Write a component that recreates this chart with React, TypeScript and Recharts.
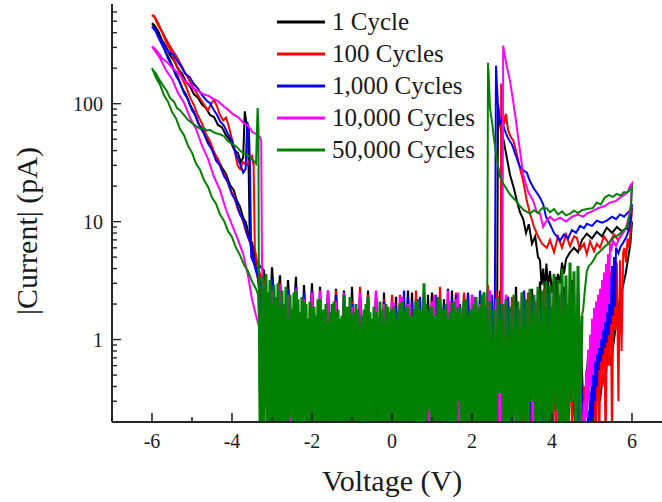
import React from 'react';
import { LineChart, Line, XAxis, YAxis, Legend } from 'recharts';

type Pair = [number, number];

const SERIF = '"Liberation Serif", "Times New Roman", Times, serif';

// ---------- axis ticks ----------
const xTicks = [-7, -6, -5, -4, -3, -2, -1, 0, 1, 2, 3, 4, 5, 6, 7];
const xLabelled = [-6, -4, -2, 0, 2, 4, 6];
const yTicks = [
  0.2, 0.3, 0.4, 0.5, 0.6, 0.7, 0.8, 0.9,
  1, 2, 3, 4, 5, 6, 7, 8, 9,
  10, 20, 30, 40, 50, 60, 70, 80, 90,
  100, 200, 300, 400, 500, 600,
];
const yLabelled = [1, 10, 100];

const cycleNames = ['1 Cycle', '100 Cycles', '1,000 Cycles', '10,000 Cycles', '50,000 Cycles'];

// ---------- 1 cycle (black) ----------
const blackNegOut = [2.2,0.1,1.9,0.3,2.5,0.08,1.7,0.15,2.3,0.06,2.0,0.2,2.6,0.1,1.8,0.05,2.4,0.12,2.1,0.3,1.9,0.07,2.5,0.1,2.2,0.18,2.7,0.09,2.3,0.15,2.6,0.2,2.4];
const blackNegLoop: Pair[] = [
  [-3.25,1.8],[-3.3,3.0],[-3.35,4.1],[-3.42,5.0],[-3.5,6.6],[-3.58,7.6],[-3.65,9.8],[-3.72,10.8],[-3.8,13.4],[-3.88,15.1],[-3.95,18.3],[-4.05,20.5],[-4.15,25.4],[-4.25,28.6],[-4.35,33.5],[-4.45,37.2],[-4.55,44.8],[-4.65,51],[-4.75,61],[-4.85,69],[-4.95,85],[-5.05,98],[-5.15,120],[-5.25,136],[-5.35,167],[-5.45,192],[-5.55,233],[-5.65,270],[-5.75,325],[-5.85,380],[-5.93,445],[-6.0,480],
  [-5.95,468],[-5.85,415],[-5.75,345],[-5.65,305],[-5.55,258],[-5.45,232],[-5.35,197],[-5.25,181],[-5.15,153],[-5.05,140],[-4.95,120],[-4.85,112],[-4.75,98],[-4.65,92],[-4.55,80],[-4.45,77],[-4.35,66],[-4.25,63],[-4.15,54],[-4.05,49],[-3.95,41],[-3.85,38],[-3.78,32],[-3.72,35],[-3.68,86],[-3.64,68],[-3.6,58],[-3.56,9],[-3.52,6.5],[-3.45,5.3],[-3.38,4.6],[-3.3,4.2],[-3.25,4.0],
];
const blackNegBack = [3.9,0.4,4.1,1.2,3.5,0.3,3.2,0.8,3.4,0.2,2.9,0.5,3.0,0.15,2.8,0.3,2.6,0.1,2.7,0.25,2.5,0.08,2.8,0.2,2.4,0.1,2.6,0.15,2.3,0.06,2.5,0.12,2.2];
const blackPosOut = [2.3,0.1,2.0,0.25,2.6,0.07,2.2,0.15,1.9,0.3,2.5,0.08,2.1,0.12,2.7,0.05,2.0,0.2,2.4,0.1,1.8,0.15,2.2,0.06,2.6,0.12,2.0];
const blackPosLoop: Pair[] = [
  [2.63,2],[2.65,100],[2.68,78],[2.72,60],[2.78,51],[2.85,38],[2.95,25],[3.05,19],[3.12,15],[3.2,12],[3.28,10.5],[3.35,8],[3.42,9.5],[3.5,6.5],[3.58,7.5],[3.65,5],[3.7,4.7],[3.74,2.9],[3.78,4.0],[3.82,2.6],[3.86,4.4],[3.9,2.8],[3.95,3.8],[4.0,2.5],[4.05,3.3],[4.1,2.4],[4.15,3.6],[4.2,3.0],[4.25,4.5],[4.3,3.6],[4.35,4.8],[4.45,5.5],[4.55,6],[4.65,5.5],[4.75,7],[4.87,7.9],[5.0,7.2],[5.12,8.2],[5.25,7.5],[5.37,8.9],[5.5,8],[5.62,9],[5.75,8.3],[5.87,8.8],[5.95,8.4],[6.0,10],
  [5.96,6.5],[5.9,4.8],[5.84,3.6],[5.77,2.8],[5.7,2.2],[5.62,1.5],[5.55,1.0],[5.47,0.6],[5.4,0.9],[5.33,0.4],[5.27,0.5],
];
const blackPosBack = [0.3,0.9,0.1,0.7,0.2,1.3,0.08,3.2,0.15,2.8,0.4,3.4,0.1,2.9,0.06,3.1,0.25,2.7,0.1,2.5,0.05,2.8,0.15,2.3,0.3,2.6,0.08,2.2,0.12,2.5,0.06,2.1,0.2,2.4,0.1,2.0,0.15,2.6,0.07,2.2,0.3,1.9,0.1,2.4,0.05,2.1,0.18,2.5,0.09,2.0,0.12,2.3,0.1];

// ---------- 100 cycles (red) ----------
const redNegOut = [1.9,0.07,2.2,0.2,1.6,0.1,2.4,0.05,1.8,0.3,2.1,0.12,1.7,0.06,2.6,0.15,1.9,0.09,2.3,0.25,1.8,0.05,2.0,0.14,2.5,0.08,2.2,0.3,1.9,0.1,2.6,0.2,3.0];
const redNegLoop: Pair[] = [
  [-3.25,1.6],[-3.32,2.8],[-3.4,4.1],[-3.48,5.0],[-3.56,6.8],[-3.65,8.2],[-3.75,10.8],[-3.85,12.6],[-3.95,16.4],[-4.05,19],[-4.15,23.6],[-4.25,27.4],[-4.35,33.8],[-4.45,39],[-4.55,48],[-4.65,55],[-4.75,68],[-4.85,79],[-4.95,97],[-5.05,113],[-5.15,140],[-5.25,163],[-5.35,201],[-5.45,235],[-5.55,289],[-5.65,335],[-5.75,405],[-5.85,465],[-5.93,535],[-6.0,565],
  [-5.95,555],[-5.87,500],[-5.78,430],[-5.68,370],[-5.58,320],[-5.48,280],[-5.38,250],[-5.28,215],[-5.18,185],[-5.08,160],[-4.98,140],[-4.88,122],[-4.78,108],[-4.68,96],[-4.6,88],[-4.52,100],[-4.45,108],[-4.38,96],[-4.3,80],[-4.22,72],[-4.15,76],[-4.08,64],[-4.0,50],[-3.92,38],[-3.86,30],[-3.8,28],[-3.72,32],[-3.62,30],[-3.55,34],[-3.5,36],[-3.46,30],[-3.43,6],[-3.38,4.6],[-3.32,3.8],[-3.25,3.2],
];
const redNegBack = [3.2,0.3,2.8,0.1,3.0,0.5,2.5,0.12,2.7,0.2,2.3,0.06,2.6,0.15,2.2,0.3,2.4,0.1,2.0,0.07,2.5,0.2,2.1,0.09,2.8,0.15,2.0,0.05,2.3,0.12,1.9,0.25,2.2];
const redPosOut = [1.9,0.08,2.4,0.2,1.7,0.1,2.6,0.06,2.0,0.3,1.8,0.12,2.8,0.07,2.1,0.15,1.9,0.05,2.5,0.2,2.2,0.09,1.8,0.3,2.9,0.1,2.3,0.12];
const redPosLoop: Pair[] = [
  [2.72,2],[2.73,148],[2.76,100],[2.8,67],[2.85,82],[2.9,60],[2.97,52],[3.03,49],[3.1,40],[3.18,30],[3.28,22],[3.37,15],[3.45,11.7],[3.55,9],[3.65,7.5],[3.75,6.5],[3.87,6],[3.95,7],[4.05,5.5],[4.15,7.5],[4.25,6],[4.35,7.8],[4.45,6.2],[4.55,7.5],[4.62,7.3],[4.7,5.8],[4.8,6.5],[4.87,5.3],[4.95,6.8],[5.05,5.6],[5.12,6.5],[5.2,6],[5.3,7.5],[5.42,6.5],[5.55,7.8],[5.65,7],[5.7,7.3],[5.8,8.5],[5.88,9],[5.95,10.8],[6.0,13],
  [5.97,9],[5.93,6],[5.89,7.2],[5.85,4.5],[5.81,6.0],
  [5.78,5.5],[5.74,0.8],[5.7,4.7],[5.66,0.3],[5.62,4.5],[5.58,1.2],[5.54,4.2],[5.5,0.15],[5.46,3.8],[5.42,0.6],[5.38,3.4],[5.34,0.1],[5.3,2.8],[5.26,0.4],[5.22,2.3],[5.18,0.1],[5.14,1.3],[5.1,0.2],[5.06,0.6],[5.02,0.08],[4.98,0.3],[4.94,0.08],[4.9,0.2],[4.86,0.06],
];
const redPosBack = [0.4,0.1,0.6,0.2,2.0,0.07,2.4,0.15,1.9,0.3,2.7,0.08,2.1,0.12,2.5,0.05,1.8,0.2,2.3,0.1,2.0,0.15,2.6,0.06,2.2,0.25,1.9,0.09,2.4,0.12,2.0,0.07,2.5,0.2,1.8,0.1,2.3,0.15,2.1,0.06,2.7,0.12,1.9,0.08,2.2,0.3,2.0,0.1,2.4];

// ---------- 1,000 cycles (blue) ----------
const blueNegOut = [1.8,0.12,2.1,0.05,1.7,0.25,2.3,0.09,1.9,0.15,2.0,0.07,1.6,0.3,2.4,0.1,1.8,0.06,2.2,0.18,1.7,0.08,2.5,0.12,2.0,0.2,2.3,0.07,1.9,0.14,2.4,0.3,2.6];
const blueNegLoop: Pair[] = [
  [-3.25,0.9],[-3.3,2.2],[-3.36,3.5],[-3.44,4.6],[-3.52,6.4],[-3.6,7.4],[-3.7,9.9],[-3.8,11.6],[-3.9,14.9],[-4.0,17],[-4.1,21.6],[-4.2,24.4],[-4.3,29.8],[-4.4,33],[-4.5,41],[-4.6,46],[-4.7,56],[-4.8,63],[-4.9,78],[-5.0,88],[-5.1,108],[-5.2,123],[-5.3,151],[-5.4,172],[-5.5,209],[-5.6,242],[-5.7,294],[-5.8,342],[-5.9,405],[-6.0,450],
  [-5.95,440],[-5.87,392],[-5.78,345],[-5.68,308],[-5.58,272],[-5.47,262],[-5.37,230],[-5.27,207],[-5.17,180],[-5.05,166],[-4.95,146],[-4.85,134],[-4.75,118],[-4.63,106],[-4.55,101],[-4.45,88],[-4.38,81],[-4.3,71],[-4.2,65],[-4.1,55],[-4.0,49],[-3.9,37],[-3.8,31],[-3.72,26],[-3.66,28],[-3.62,70],[-3.58,62],[-3.55,30],[-3.52,5],[-3.45,4.4],[-3.38,3.6],[-3.3,3.0],[-3.25,2.6],
];
const blueNegBack = [3.0,0.5,3.3,0.2,2.9,0.4,2.7,0.1,2.8,0.25,2.4,0.08,2.6,0.15,2.2,0.06,2.5,0.2,2.1,0.1,2.4,0.3,2.0,0.07,2.3,0.12,1.9,0.18,2.2,0.09,2.0,0.15,1.8];
const bluePosOut = [2.0,0.12,1.7,0.05,2.3,0.2,1.9,0.1,2.5,0.07,1.8,0.3,2.1,0.15,1.6,0.06,2.4,0.1,2.0,0.2,1.7,0.08,2.6,0.12,1.9,0.1];
const bluePosLoop: Pair[] = [
  [2.57,1.8],[2.6,210],[2.62,150],[2.65,95],[2.7,67],[2.75,75],[2.8,62],[2.85,56],[2.9,51],[3.0,45],[3.1,36],[3.2,29],[3.3,27],[3.37,26],[3.45,22],[3.55,19],[3.65,17],[3.72,15.5],[3.78,14],[3.85,11],[3.95,9.5],[4.05,8],[4.12,7.5],[4.2,6.9],[4.3,7.8],[4.4,7.2],[4.5,8.5],[4.6,8],[4.7,9.2],[4.8,8.8],[4.87,9.6],[5.0,9.2],[5.12,10.2],[5.25,9.8],[5.37,10.2],[5.5,11],[5.6,10.5],[5.7,11.5],[5.8,11],[5.87,11.7],[5.95,12.5],[6.0,14],
  [5.97,10.5],[5.92,8.5],[5.87,7.6],[5.8,6.8],[5.72,6.2],[5.66,5.4],
  [5.6,6.0],[5.575,1.9],[5.55,5.0],[5.525,1.6],[5.5,4.2],[5.475,1.35],[5.45,3.5],[5.425,1.1],[5.4,3.0],[5.375,0.95],[5.35,2.6],[5.325,0.85],[5.3,2.3],[5.275,0.75],[5.25,2.0],[5.225,0.65],[5.2,1.76],[5.175,0.55],[5.15,1.3],[5.125,0.4],[5.1,0.95],[5.075,0.3],[5.05,0.7],[5.025,0.2],[5.0,0.5],[4.975,0.15],[4.95,0.35],[4.925,0.1],[4.9,0.25],[4.875,0.08],[4.86,0.2],
];
const bluePosBack = [0.2,0.6,0.08,1.9,0.15,2.3,0.06,2.0,0.25,2.5,0.1,1.8,0.12,2.2,0.05,2.6,0.2,1.9,0.09,2.3,0.15,2.0,0.07,2.4,0.3,1.7,0.1,2.1,0.06,2.5,0.18,1.9,0.08,2.2,0.12,2.0,0.05,2.4,0.2,1.8,0.1,2.3,0.15,2.1,0.07,2.6,0.12,1.9,0.1];

// ---------- 10,000 cycles (magenta) ----------
const magentaNegOut = [2.0,0.06,1.7,0.2,2.4,0.1,1.9,0.35,2.2,0.08,1.6,0.15,2.5,0.05,2.0,0.22,1.8,0.1,2.6,0.07,2.1,0.3,1.7,0.12,2.3,0.06,1.9,0.18,2.5,0.09,2.2,0.4,2.8];
const magentaNegLoop: Pair[] = [
  [-3.3,1.2],[-3.4,1.6],[-3.5,2.2],[-3.6,3.5],[-3.72,5.3],[-3.85,7],[-4.0,9.4],[-4.15,12.6],[-4.3,18.5],[-4.45,24],[-4.6,34],[-4.75,44],[-4.9,61],[-5.05,76],[-5.2,102],[-5.35,123],[-5.5,162],[-5.65,192],[-5.8,243],[-5.9,272],[-6.0,305],
  [-5.95,298],[-5.85,272],[-5.75,243],[-5.62,224],[-5.47,198],[-5.35,182],[-5.2,158],[-5.1,149],[-4.97,135],[-4.85,129],[-4.72,120],[-4.6,117],[-4.47,110],[-4.35,105],[-4.2,94],[-4.1,89],[-3.97,81],[-3.85,77],[-3.72,69],[-3.6,65],[-3.48,57],[-3.37,55],[-3.3,52],[-3.27,48],[-3.25,4.7],[-3.22,1.5],
];
const magentaNegBack = [3.0,0.3,2.6,0.6,2.9,0.2,2.4,0.1,2.7,0.35,2.2,0.08,2.5,0.15,2.0,0.25,2.6,0.06,2.1,0.12,2.4,0.3,1.9,0.1,2.5,0.07,2.2,0.2,2.6,0.15,2.0,0.09,2.1];
const magentaPosOut = [1.8,0.1,2.3,0.06,2.0,0.25,1.7,0.12,2.5,0.08,2.1,0.3,1.9,0.05,2.6,0.15,2.2,0.1,1.8,0.2,2.4,0.07,2.0,0.12,2.7,0.09,2.2,0.15];
const magentaPosLoop: Pair[] = [
  [2.76,2],[2.78,310],[2.82,255],[2.88,200],[2.95,156],[3.02,110],[3.08,80],[3.12,63],[3.2,40],[3.28,25],[3.4,18],[3.53,15],[3.62,12],[3.7,11.7],[3.78,9],[3.85,10],[3.95,11],[4.05,10.2],[4.2,10.8],[4.35,10],[4.5,11],[4.65,11.5],[4.78,11],[4.87,11.7],[5.0,12.2],[5.15,13],[5.3,13.5],[5.45,14.5],[5.6,15],[5.7,16],[5.82,17],[5.9,18],[5.95,20],[6.0,21],
  [5.97,14],[5.92,11],[5.86,9],[5.78,8],[5.7,7.5],[5.6,6.2],[5.52,7.0],[5.48,5.6],
  [5.45,6.5],[5.425,2.0],[5.4,5.3],[5.375,1.7],[5.35,4.4],[5.325,1.4],[5.3,3.7],[5.275,1.2],[5.25,3.2],[5.225,1.0],[5.2,2.7],[5.175,0.85],[5.15,2.4],[5.125,0.75],[5.1,2.1],[5.075,0.65],[5.05,1.85],[5.025,0.5],[5.0,1.5],[4.975,0.4],[4.95,1.1],[4.925,0.3],[4.9,0.82],[4.875,0.22],[4.85,0.55],[4.825,0.15],[4.8,0.3],[4.78,0.1],
];
const magentaPosBack = [0.15,2.2,0.3,2.8,0.1,2.5,0.2,2.9,0.08,2.4,0.35,2.6,0.12,2.2,0.06,2.5,0.2,2.0,0.1,2.4,0.15,2.1,0.07,2.6,0.25,1.9,0.1,2.3,0.06,2.0,0.18,2.5,0.09,2.1,0.3,1.8,0.12,2.4,0.05,2.0,0.2,2.2,0.08,1.9,0.15,2.3,0.1,2.0];

// ---------- 50,000 cycles (green) ----------
const greenNegOut = [1.6,0.08,1.9,0.15,1.4,0.05,2.1,0.3,1.7,0.1,1.5,0.06,2.3,0.2,1.8,0.12,1.3,0.04,2.0,0.5,1.6,0.09,1.9,0.18,2.4,0.07,1.5,0.11,1.7,0.25,2.0,0.06,1.4,0.14,1.8,0.08,2.2,0.35,1.6,0.1,1.9,0.05,1.5,0.16,2.1,0.07,1.7,0.12,2.6,0.09,1.8,0.22,1.5,0.06,2.0,0.13,1.9,0.1,2.3,0.08,2.0,0.15,2.5,0.3,2.8,0.12];
const greenNegLoop: Pair[] = [
  [-3.3,0.9],[-3.35,2.4],[-3.4,2.7],[-3.5,3.1],[-3.6,3.8],[-3.7,4.3],[-3.8,5.2],[-3.9,6.0],[-4.0,7.4],[-4.1,8.3],[-4.2,10.2],[-4.3,11.5],[-4.4,14.2],[-4.5,16],[-4.6,19.8],[-4.7,22.5],[-4.8,27.5],[-4.9,31],[-5.0,38.5],[-5.1,44],[-5.2,54],[-5.3,61],[-5.4,75],[-5.5,85],[-5.6,104],[-5.7,118],[-5.8,145],[-5.9,166],[-6.0,200],
  [-5.96,190],[-5.9,180],[-5.82,160],[-5.72,142],[-5.63,128],[-5.55,112],[-5.45,104],[-5.38,92],[-5.3,88],[-5.2,80],[-5.1,73],[-4.97,67],[-4.88,64],[-4.78,61],[-4.7,62],[-4.63,59],[-4.55,60],[-4.45,57],[-4.38,56],[-4.3,55],[-4.2,53],[-4.1,48],[-3.97,45],[-3.88,43],[-3.8,40],[-3.72,38],[-3.63,37],[-3.55,35],[-3.47,33],[-3.4,31],[-3.36,92],[-3.34,66],[-3.32,0.4],
];
const greenNegBack = [0.08,3.4,0.15,3.6,0.1,3.2,0.3,2.9,0.06,3.0,0.2,2.6,0.1,2.8,0.05,2.4,0.25,2.5,0.12,2.2,0.07,2.3,0.4,2.0,0.1,2.1,0.06,1.9,0.18,2.2,0.09,1.8,0.3,2.0,0.05,1.7,0.14,2.1,0.08,1.8,0.2,1.6,0.1,1.9,0.06,2.3,0.15,1.7,0.09,1.8,0.35,1.6,0.07,2.0,0.12,1.7,0.05,1.9,0.2,1.5,0.1,1.8,0.08,2.0,0.16,1.7,0.1];
const greenPosOut = [1.8,0.1,1.5,0.06,2.0,0.2,1.7,0.08,1.9,0.3,1.6,0.12,2.1,0.05,1.8,0.15,3.0,0.09,1.7,0.25,1.9,0.07,1.6,0.12,2.2,0.06,1.8,0.18,1.5,0.1,2.0,0.08,1.7,0.3,1.9,0.05,2.1,0.14,1.6,0.09,1.8,0.2,2.3,0.07,1.9,0.12,2.5,0.1];
const greenPosLoop: Pair[] = [
  [2.38,1.5],[2.4,222],[2.42,165],[2.45,92],[2.5,70],[2.55,50],[2.6,38],[2.65,30],[2.7,24],[2.78,21],[2.86,19],[2.95,17],[3.02,16],[3.1,15],[3.2,13.5],[3.3,12.5],[3.45,11.7],[3.55,12.5],[3.65,11.8],[3.75,13],[3.87,13],[3.95,12],[4.05,12.8],[4.15,11.5],[4.25,12.2],[4.35,11.3],[4.45,11.7],[4.55,12.4],[4.65,11.8],[4.75,12.5],[4.87,12.8],[5.02,13],[5.12,14.5],[5.22,14],[5.32,16],[5.42,16.8],[5.52,16.2],[5.62,17.2],[5.72,16.6],[5.8,17.8],[5.87,17.6],[5.95,18.5],[6.0,19.5],
  [5.97,12],[5.93,11],[5.87,9],[5.8,8.5],[5.72,8],[5.63,7.6],[5.53,7.3],[5.43,6.6],[5.33,6.2],[5.25,5.8],[5.18,5.5],[5.12,5.3],[5.05,4.8],[4.98,4.4],[4.92,4.2],[4.87,3.8],[4.82,2.6],[4.78,1.8],
];
const greenPosBack = [1.6,0.2,4.2,0.1,3.8,0.3,4.5,0.08,3.5,0.15,4.0,0.06,3.2,0.25,3.6,0.1,2.9,0.05,3.1,0.18,2.6,0.08,2.8,0.12,2.4,0.3,2.7,0.06,2.2,0.15,2.5,0.09,2.1,0.2,2.4,0.07,1.9,0.12,2.2,0.05,2.0,0.35,2.3,0.1,1.8,0.08,2.1,0.16,1.9,0.06,2.4,0.12,1.7,0.2,2.0,0.09,1.8,0.05,2.2,0.14,1.6,0.3,1.9,0.07,2.1,0.1,1.7,0.06,2.0,0.18,1.8,0.08,2.3,0.12,1.6,0.05,1.9,0.25,2.0,0.1,1.7,0.07,2.2,0.15,1.8,0.06,1.6,0.2,1.9,0.09,2.1,0.12,1.7,0.1,1.9,0.08];

// ---------- helpers: sampled sweeps -> {v, i} points ----------
type Pt = { v: number; i: number | null };
const sweep = (start: number, step: number, values: number[]): Pt[] =>
  values.map((i, k) => ({ v: Math.round((start + k * step) * 1000) / 1000, i }));
const pairs = (list: Pair[]): Pt[] => list.map(([v, i]) => ({ v, i }));
const BREAK: Pt = { v: 0, i: null };

// Each measurement: 0 -> -6 V -> 0 -> +6 V -> 0. The low-current (noise floor)
// stretches and the switching loops are kept as two polylines.
const build = (negOut: Pt[], negLoop: Pt[], negBack: Pt[], posOut: Pt[], posLoop: Pt[], posBack: Pt[]) => ({
  floor: [...posBack, ...negOut, BREAK, ...negBack, ...posOut],
  loops: [
    negOut[negOut.length - 1], ...negLoop, negBack[0], BREAK,
    posOut[posOut.length - 1], ...posLoop, posBack[0],
  ],
});

const cycle1 = build(
  sweep(0, -0.1, blackNegOut), pairs(blackNegLoop), sweep(-3.2, 0.1, blackNegBack),
  sweep(0, 0.1, blackPosOut), pairs(blackPosLoop), sweep(5.2, -0.1, blackPosBack),
);
const cycle100 = build(
  sweep(0, -0.1, redNegOut), pairs(redNegLoop), sweep(-3.2, 0.1, redNegBack),
  sweep(0, 0.1, redPosOut), pairs(redPosLoop), sweep(4.8, -0.1, redPosBack),
);
const cycle1000 = build(
  sweep(0, -0.1, blueNegOut), pairs(blueNegLoop), sweep(-3.2, 0.1, blueNegBack),
  sweep(0, 0.1, bluePosOut), pairs(bluePosLoop), sweep(4.8, -0.1, bluePosBack),
);
const cycle10000 = build(
  sweep(0, -0.1, magentaNegOut), pairs(magentaNegLoop), sweep(-3.2, 0.1, magentaNegBack),
  sweep(0, 0.1, magentaPosOut), pairs(magentaPosLoop), sweep(4.75, -0.1, magentaPosBack),
);
const cycle50000 = build(
  sweep(0, -0.05, greenNegOut), pairs(greenNegLoop), sweep(-3.3, 0.05, greenNegBack),
  sweep(0, 0.05, greenPosOut), pairs(greenPosLoop), sweep(4.75, -0.05, greenPosBack),
);

const series = [
  { name: cycleNames[0], color: '#000000', floorWidth: 2.2, ...cycle1 },
  { name: cycleNames[1], color: '#ff0000', floorWidth: 2.2, ...cycle100 },
  { name: cycleNames[2], color: '#0000ff', floorWidth: 2.2, ...cycle1000 },
  { name: cycleNames[3], color: '#ff00ff', floorWidth: 2.4, ...cycle10000 },
  { name: cycleNames[4], color: '#008000', floorWidth: 3, ...cycle50000 },
];

const AXIS = '#262626';
const TEXT = '#1a1a1a';

const XTick = (props: any) => {
  const { x, y, payload } = props;
  const v = payload.value as number;
  const major = v % 2 === 0;
  return (
    <g>
      <line x1={x} x2={x} y1={y} y2={y - (major ? 9 : 5)} stroke={AXIS} strokeWidth={1.6} />
      {xLabelled.includes(v) && (
        <text x={x} y={y + 26} textAnchor="middle" fontSize={20} fontFamily={SERIF} fill={TEXT}>
          {String(v)}
        </text>
      )}
    </g>
  );
};

const YTick = (props: any) => {
  const { x, y, payload } = props;
  const v = payload.value as number;
  const major = yLabelled.includes(v);
  return (
    <g>
      <line x1={x} x2={x + (major ? 9 : 5)} y1={y} y2={y} stroke={AXIS} strokeWidth={1.4} />
      {major && (
        <text x={x - 9} y={y + 7} textAnchor="end" fontSize={20} fontFamily={SERIF} fill={TEXT}>
          {String(v)}
        </text>
      )}
    </g>
  );
};

const XTitle = (props: any) => {
  const vb = props.viewBox || { x: 112, y: 422, width: 560, height: 80 };
  return (
    <text x={vb.x + vb.width / 2} y={vb.y + vb.height - 11} textAnchor="middle" fontSize={30} fontFamily={SERIF} fill={TEXT}>
      Voltage (V)
    </text>
  );
};

const YTitle = (props: any) => {
  const vb = props.viewBox || { x: 0, y: 4, width: 112, height: 418 };
  const cx = vb.x + 37;
  const cy = vb.y + vb.height / 2 + 18;
  return (
    <text x={cx} y={cy} transform={`rotate(-90 ${cx} ${cy})`} textAnchor="middle" fontSize={30} fontFamily={SERIF} fill={TEXT}>
      |Current| (pA)
    </text>
  );
};

const LegendBox = () => (
  <div style={{ fontFamily: SERIF, fontSize: 25, color: TEXT }}>
    {series.map((s) => (
      <div key={s.name} style={{ display: 'flex', alignItems: 'center', height: 32, whiteSpace: 'nowrap' }}>
        <svg width={48} height={4} style={{ display: 'block' }}>
          <line x1={0} y1={2} x2={48} y2={2} stroke={s.color} strokeWidth={3} />
        </svg>
        <span style={{ marginLeft: 7, lineHeight: '32px' }}>{s.name}</span>
      </div>
    ))}
  </div>
);

export default function App() {
  return (
    <div style={{ position: 'absolute', left: 0, top: 0, width: 662, height: 502, overflow: 'hidden', background: '#ffffff' }}>
      <LineChart width={700} height={502} margin={{ top: 4, right: 28, left: 0, bottom: 0 }} style={{ fontFamily: SERIF }}>
        <XAxis
          dataKey="v"
          type="number"
          domain={[-7, 7]}
          ticks={xTicks}
          interval={0}
          allowDataOverflow
          height={80}
          tickLine={false}
          tickSize={0}
          tickMargin={0}
          tick={<XTick />}
          axisLine={{ stroke: AXIS, strokeWidth: 2 }}
          label={<XTitle />}
        />
        <XAxis
          xAxisId="top"
          orientation="top"
          dataKey="v"
          type="number"
          domain={[-7, 7]}
          height={0}
          tick={false}
          tickLine={false}
          axisLine={{ stroke: '#3a3a3a', strokeWidth: 2 }}
        />
        <YAxis
          scale="log"
          domain={[0.2, 700]}
          ticks={yTicks}
          interval={0}
          allowDataOverflow
          width={112}
          tickLine={false}
          tickSize={0}
          tickMargin={0}
          tick={<YTick />}
          axisLine={{ stroke: AXIS, strokeWidth: 2 }}
          label={<YTitle />}
        />
        <Legend
          layout="vertical"
          align="center"
          verticalAlign="middle"
          content={<LegendBox />}
          wrapperStyle={{ left: 277, top: 6, width: 220 }}
        />
        {series.map((s) => [
          <Line
            key={s.name + '-loops'}
            name={s.name}
            data={s.loops}
            dataKey="i"
            type="linear"
            stroke={s.color}
            strokeWidth={2}
            dot={false}
            activeDot={false}
            legendType="none"
            isAnimationActive={false}
          />,
          <Line
            key={s.name + '-floor'}
            name={s.name}
            data={s.floor}
            dataKey="i"
            type="linear"
            stroke={s.color}
            strokeWidth={s.floorWidth}
            dot={false}
            activeDot={false}
            legendType="none"
            isAnimationActive={false}
          />,
        ])}
      </LineChart>
    </div>
  );
}
